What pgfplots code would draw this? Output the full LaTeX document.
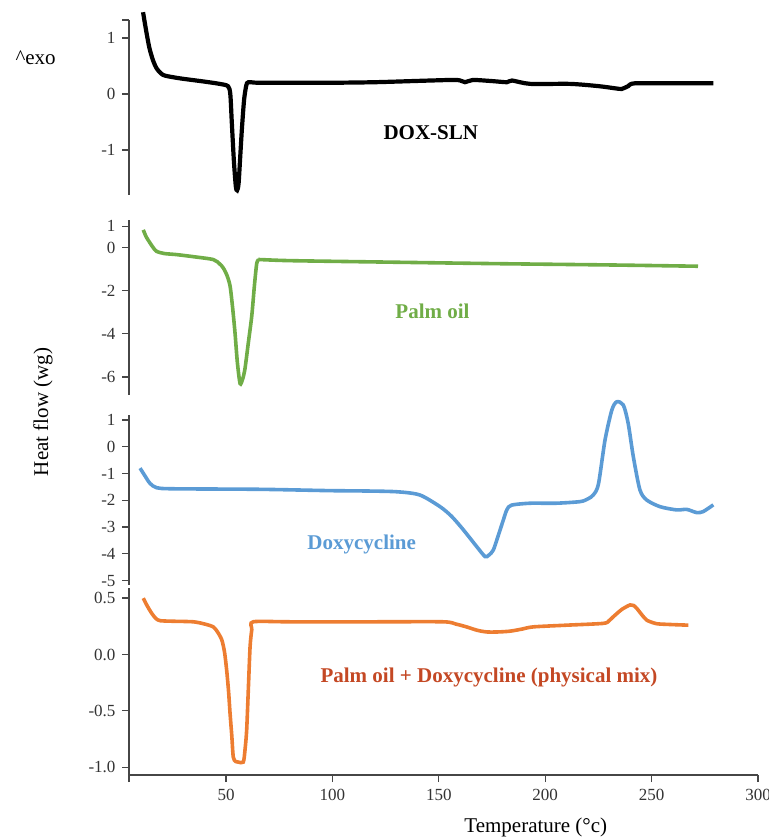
\documentclass[border=0pt]{standalone}
\usepackage{pgfplots}
\pgfplotsset{compat=1.18}
\usepackage{fontspec}
\setmainfont{Liberation Serif}
\definecolor{cgreen}{RGB}{112,173,71}
\definecolor{cblue}{RGB}{91,155,213}
\definecolor{corange}{RGB}{237,125,49}
\definecolor{cred}{RGB}{196,72,36}
\definecolor{axgray}{RGB}{70,70,70}
\begin{document}
\begin{tikzpicture}
\useasboundingbox (0,0) rectangle (768pt,840pt);
\pgfplotsset{
  panel/.style={
    scale only axis, width=629pt, xmin=4.4, xmax=300,
    axis y line*=left, clip=false,
    tick align=outside, major tick length=7pt,
    axis line style={line width=1.4pt, color=axgray},
    every tick/.style={line width=1.3pt, color=axgray},
    ticklabel style={font=\fontsize{17}{19}\selectfont, color=black!80},
    yticklabel style={xshift=-3pt},
    xticklabel style={yshift=-4pt},
    anchor=south west,
  },
  toppanel/.style={panel, hide x axis},
}
% Panel 1: DOX-SLN
\begin{axis}[toppanel, at={(129pt,645pt)}, height=175pt, ymin=-1.804, ymax=1.321,
  ytick={-1,0,1}, yticklabels={-1,0,1},
  extra y ticks={1.321}, extra y tick labels={}]
\addplot[black, line width=4.2pt, smooth, tension=0.45] coordinates {
(11,1.46) (12.5,1.12) (14,0.82) (15.7,0.6) (17.5,0.45) (20.4,0.34) (25,0.30) (30,0.27) (40,0.22) (47,0.18) (50.9,0.14) (52,0.0) (52.7,-0.5) (53.7,-1.2) (54.6,-1.65) (55.2,-1.72) (55.9,-1.6) (56.7,-1.1) (57.5,-0.6) (58.5,-0.1) (59.5,0.15) (60.5,0.21) (65,0.2) (80,0.2) (99,0.2) (120,0.21) (146,0.24) (158.6,0.25) (162.3,0.21) (166,0.25) (175,0.23) (182,0.21) (184.4,0.24) (193,0.18) (211.7,0.18) (225,0.14) (233,0.1) (236,0.09) (239,0.14) (242,0.19) (260,0.19) (279,0.19)
};
\end{axis}
% Panel 2: Palm oil
\begin{axis}[toppanel, at={(129pt,445pt)}, height=175pt, ymin=-6.84, ymax=1.288,
  ytick={-6,-4,-2,0,1}, yticklabels={-6,-4,-2,0,1}]
\addplot[cgreen, line width=3.6pt, smooth, tension=0.45] coordinates {
(11.1,0.83) (12.5,0.5) (14.3,0.22) (15.8,0.0) (17.4,-0.17) (21,-0.27) (26.8,-0.32) (35,-0.42) (44,-0.55) (47,-0.75) (48.7,-0.94) (50.5,-1.3) (51.9,-1.78) (53,-2.7) (54.2,-3.93) (55.3,-5.3) (56.6,-6.31) (57.8,-6.1) (58.9,-5.62) (60.5,-4.4) (62.1,-3.16) (63.3,-1.8) (64.4,-0.75) (65.3,-0.55) (66,-0.55) (80,-0.6) (120,-0.66) (177.2,-0.74) (230,-0.8) (271.8,-0.86)
};
\end{axis}
% Panel 3: Doxycycline
\begin{axis}[toppanel, at={(129pt,255pt)}, height=170pt, ymin=-5.165, ymax=1.187,
  ytick={-5,-4,-3,-2,-1,0,1}, yticklabels={-5,-4,-3,-2,-1,0,1}]
\addplot[cblue, line width=3.6pt, smooth, tension=0.45] coordinates {
(9.6,-0.8) (12,-1.1) (14.3,-1.37) (17.4,-1.53) (25,-1.57) (66,-1.59) (99,-1.64) (113,-1.65) (130,-1.68) (141,-1.8) (150.6,-2.24) (156,-2.6) (161.5,-3.1) (167.8,-3.73) (171.7,-4.1) (173.5,-4.05) (175.6,-3.86) (178,-3.3) (180.3,-2.74) (182,-2.35) (184.2,-2.18) (192.9,-2.11) (205,-2.11) (216.4,-2.05) (220,-1.95) (222.6,-1.8) (225,-1.4) (228.1,0.25) (231.3,1.37) (233.6,1.68) (236.7,1.56) (239,0.87) (241.4,-0.37) (244.5,-1.61) (247.7,-1.99) (254,-2.24) (261.8,-2.36) (266.5,-2.34) (271.2,-2.46) (274.3,-2.42) (279,-2.17)
};
\end{axis}
% Panel 4: physical mix
\begin{axis}[panel, at={(129pt,65pt)}, height=187pt, ymin=-1.0695, ymax=0.59,
  axis x line*=bottom,
  ytick={-1,-0.5,0,0.5}, yticklabels={-1.0,-0.5,0.0,0.5},
  xtick={50,100,150,200,250,300}, xticklabels={50,100,150,200,250,300},
  extra x ticks={4.4}, extra x tick labels={}]
\addplot[corange, line width=3.6pt, smooth, tension=0.45] coordinates {
(11.1,0.5) (13,0.43) (15.1,0.365) (17,0.32) (19,0.30) (25,0.295) (34.6,0.29) (40,0.27) (44,0.245) (46,0.2) (48,0.13) (49.3,0.02) (50.3,-0.14) (51.2,-0.33) (51.9,-0.525) (52.7,-0.72) (53.4,-0.91) (54.5,-0.95) (55.8,-0.955) (58.1,-0.955) (58.9,-0.85) (59.7,-0.67) (60.5,-0.3) (61.3,0.07) (62.1,0.22) (62.8,0.29) (80,0.29) (120,0.29) (152,0.29) (158,0.27) (163,0.245) (168,0.215) (172.5,0.2) (178,0.2) (183.5,0.207) (189,0.225) (194.4,0.245) (210,0.26) (227.3,0.276) (230,0.3) (232,0.335) (236,0.40) (239.9,0.44) (241.5,0.435) (243,0.41) (245.5,0.35) (247.7,0.305) (251,0.28) (254,0.27) (267.3,0.26)
};
\end{axis}
% texts
\node[anchor=base west, font=\fontsize{21}{24}\selectfont] at (12pt,775pt) {\textasciicircum exo};
\node[anchor=base, font=\bfseries\fontsize{21}{24}\selectfont, text=black] at (430.8pt,700pt) {DOX-SLN};
\node[anchor=base, font=\bfseries\fontsize{21}{24}\selectfont, text=cgreen] at (432.5pt,521.7pt) {Palm oil};
\node[anchor=base, font=\bfseries\fontsize{21}{24}\selectfont, text=cblue] at (361.7pt,290pt) {Doxycycline};
\node[anchor=base, font=\bfseries\fontsize{21}{24}\selectfont, text=cred] at (489pt,157pt) {Palm oil + Doxycycline (physical mix)};
\node[rotate=90, font=\fontsize{21}{24}\selectfont] at (43pt,428pt) {Heat flow (wg)};
\node[anchor=base, font=\fontsize{21}{24}\selectfont] at (535.8pt,7pt) {Temperature (°c)};
\end{tikzpicture}
\end{document}
